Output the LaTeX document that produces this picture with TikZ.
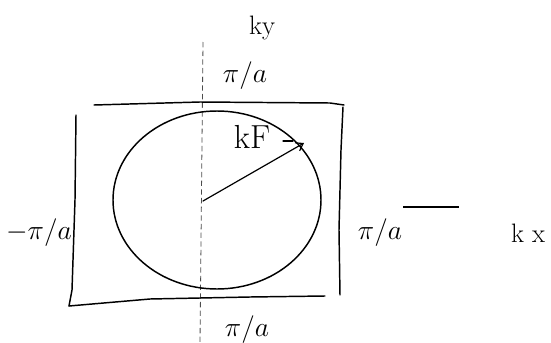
\documentclass[tikz,border=0pt]{standalone}
\usepackage{tikz}
\usetikzlibrary{arrows.meta,shapes.geometric}
\tikzset{
  sketch/.style={line width=1.1pt, line cap=round, line join=round},
  axisline/.style={line width=0.6pt, dash pattern=on 4pt off 2.5pt, black!70},
  lbl/.style={font=\fontsize{20}{20}\selectfont, inner sep=0pt},
  biglbl/.style={font=\fontsize{25}{25}\selectfont, inner sep=0pt},
}
\begin{document}
\begin{tikzpicture}[x=0.75pt, y=-0.75pt]
\useasboundingbox (0,0) rectangle (551,343);
% vertical ky axis (dashed)
\coordinate (ytop) at (203,42);
\coordinate (ybot) at (200,343);
\draw[axisline] (ytop) -- (ybot);
% square (Brillouin zone)
\draw[sketch] (94,105) -- (200,102) -- (330,103) -- (344,105);
\draw[sketch] (76,115) -- (75,200) -- (72,290) -- (69,306);
\draw[sketch] (69,306) -- (150,299) -- (250,297) -- (325,296);
\draw[sketch] (343,107) -- (341,150) -- (339,230) -- (340,295);
% Fermi circle
\node[draw, sketch, ellipse, minimum width=208*0.75pt, minimum height=178*0.75pt, inner sep=0pt] (fermi) at (217,200) {};
% radius vector
\coordinate (center) at (203,201);
\coordinate (tip) at (304,143);
\draw[sketch, line width=0.9pt, -{Straight Barb[length=5pt,width=7pt]}] (center) -- (tip);
% kx axis fragment
\coordinate (xa) at (403,207);
\coordinate (xb) at (459,207);
\draw[line width=0.8pt] (xa) -- (xb);
% labels
\node[lbl] (ky) at (262,28) {ky};
\node[lbl] (topl) at (245,76) {$\pi/a$};
\node[biglbl] (kf) at (252,137) {kF};
\draw[sketch, line width=0.9pt] (283,141) -- (293,141);
\node[lbl] (leftl) at (39,233) {$-\pi/a$};
\node[lbl] (rightl) at (380,233) {$\pi/a$};
\node[lbl] (kx) at (528,233) {k x};
\node[lbl] (botl) at (247,330) {$\pi/a$};
\end{tikzpicture}
\end{document}
